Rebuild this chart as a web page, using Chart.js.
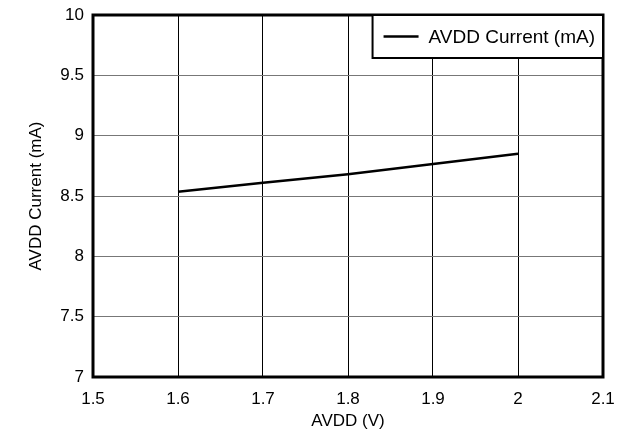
<!DOCTYPE html>
<html>
<head>
<meta charset="utf-8">
<script src="https://cdn.jsdelivr.net/npm/chart.js@4.4.0/dist/chart.umd.min.js"></script>
<style>
  html, body { margin: 0; padding: 0; background: #fff; }
  #chart { display: block; }
</style>
</head>
<body>
<canvas id="chart" width="620" height="432"></canvas>
<script>
// values
const avddVolts = [1.6, 1.7, 1.8, 1.9, 2.0];
const avddCurrent = [8.535, 8.61, 8.68, 8.765, 8.85];
const seriesLabel = 'AVDD Current (mA)';
const xTitle = 'AVDD (V)';
const yTitle = 'AVDD Current (mA)';

const FONT = 'Liberation Sans, Arial, Helvetica, sans-serif';

// thick frame around plot + boxed legend in the top right corner
const framePlugin = {
    id: 'frame',
    afterDraw(chart) {
        const { ctx, chartArea: a } = chart;
        ctx.save();
        ctx.strokeStyle = '#000';
        ctx.lineWidth = 3;
        ctx.strokeRect(a.left, a.top, a.right - a.left, a.bottom - a.top);

        // legend box
        const ds = chart.data.datasets[0];
        ctx.font = '19px ' + FONT;
        const tw = ctx.measureText(ds.label).width;
        const w = tw + 64, h = 43;
        const x = a.right - w, y = a.top;
        ctx.fillStyle = '#fff';
        ctx.fillRect(x, y, w, h);
        ctx.lineWidth = 2;
        ctx.strokeRect(x, y, w, h);
        ctx.lineWidth = 2.5;
        ctx.beginPath();
        ctx.moveTo(x + 11, y + h / 2);
        ctx.lineTo(x + 46, y + h / 2);
        ctx.stroke();
        ctx.fillStyle = '#000';
        ctx.textBaseline = 'middle';
        ctx.fillText(ds.label, x + 56, y + h / 2 + 1);
        ctx.restore();
    }
};

new Chart(document.getElementById('chart'), {
    type: 'line',
    data: {
        datasets: [{
            label: seriesLabel,
            data: avddVolts.map((v, i) => ({ x: v, y: avddCurrent[i] })),
            borderColor: '#000',
            borderWidth: 2.5,
            pointRadius: 0,
            tension: 0,
            fill: false,
        }],
    },
    options: {
        responsive: false,
        animation: false,
        layout: { padding: { top: 15, right: 17, left: 0, bottom: 0 } },
        plugins: {
            legend: { display: false },
            tooltip: { enabled: false },
        },
        scales: {
            x: {
                type: 'linear',
                min: 1.5,
                max: 2.1,
                ticks: {
                    stepSize: 0.1,
                    color: '#000',
                    font: { family: FONT, size: 17 },
                    padding: 12,
                    callback: (v) => +v.toFixed(1),
                },
                grid: { color: '#000', lineWidth: 1, drawTicks: false },
                border: { display: false },
                title: {
                    display: true,
                    text: xTitle,
                    color: '#000',
                    font: { family: FONT, size: 17 },
                    padding: { top: 0, bottom: 0 },
                },
                afterFit: (s) => {
                    s.height = 55;
                    s.paddingLeft = 0;
                    s.paddingRight = 0;
                },
            },
            y: {
                min: 7,
                max: 10,
                ticks: {
                    stepSize: 0.5,
                    color: '#000',
                    font: { family: FONT, size: 17 },
                    padding: 9,
                    callback: (v) => +v.toFixed(1),
                },
                grid: { color: '#777', lineWidth: 1, drawTicks: false },
                border: { display: false },
                title: {
                    display: true,
                    text: yTitle,
                    color: '#000',
                    font: { family: FONT, size: 17 },
                    padding: { top: 26, bottom: 0 },
                },
                afterFit: (s) => {
                    s.width = 93;
                    s.paddingTop = 0;
                    s.paddingBottom = 0;
                },
            },
        },
    },
    plugins: [framePlugin],
});
</script>
</body>
</html>
